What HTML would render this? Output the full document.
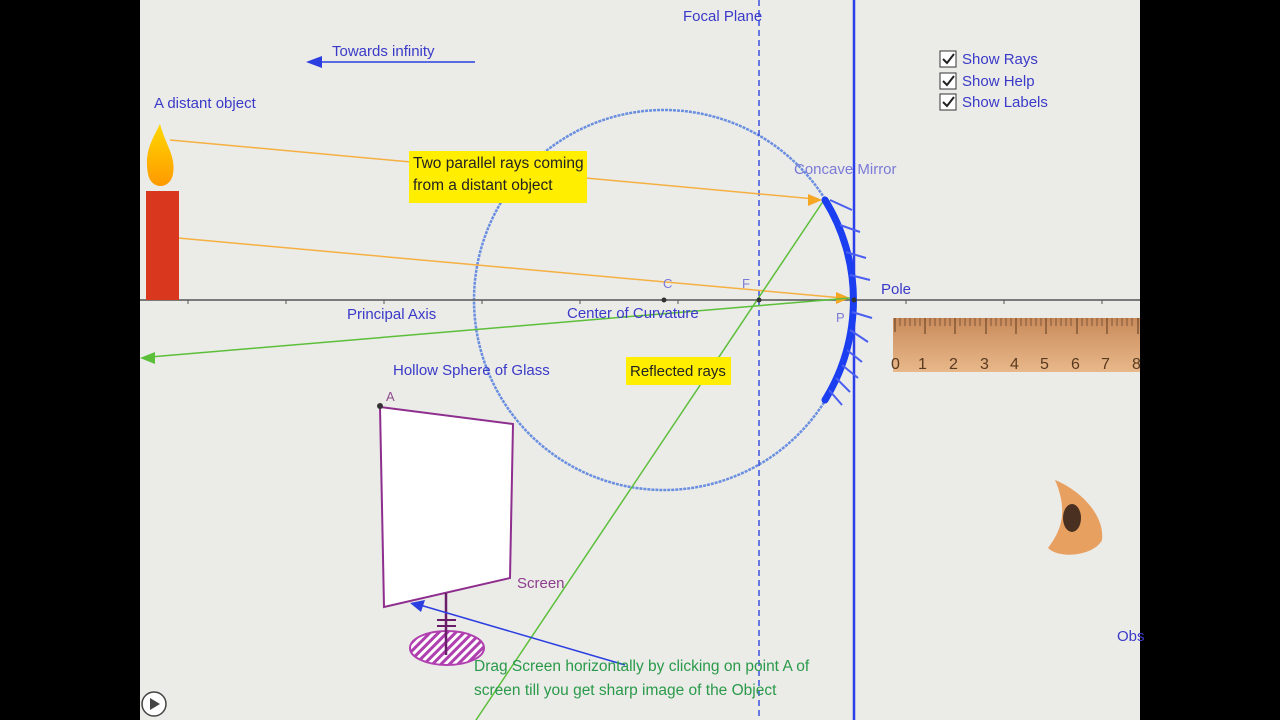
<!DOCTYPE html>
<html><head><meta charset="utf-8"><style>
body{margin:0;width:1280px;height:720px;overflow:hidden;background:#000}
svg{display:block}
text{font-family:"Liberation Sans",sans-serif}
</style></head><body>
<svg width="1280" height="720" viewBox="0 0 1280 720">
<defs>
<pattern id="h" width="6" height="6" patternUnits="userSpaceOnUse" patternTransform="rotate(45)"><rect width="6" height="6" fill="#fff"/><rect width="3" height="6" fill="#b040b0"/></pattern>
<linearGradient id="rl" x1="0" y1="0" x2="0" y2="1"><stop offset="0" stop-color="#c98a5a"/><stop offset="1" stop-color="#e8b88a"/></linearGradient>
<linearGradient id="fl" x1="0" y1="0" x2="0" y2="1"><stop offset="0" stop-color="#ffd800"/><stop offset="1" stop-color="#ff9a00"/></linearGradient>
</defs>
<rect x="140" y="0" width="1000" height="720" fill="#ebebe8"/>
<circle cx="664" cy="300" r="190" fill="none" stroke="#6a8fe0" stroke-width="2.5" stroke-dasharray="3 1"/>
<line x1="140" y1="300" x2="1140" y2="300" stroke="#555" stroke-width="1.5"/>
<g stroke="#555" stroke-width="1">
<line x1="188" y1="300" x2="188" y2="304"/><line x1="286" y1="300" x2="286" y2="304"/><line x1="384" y1="300" x2="384" y2="304"/><line x1="482" y1="300" x2="482" y2="304"/><line x1="580" y1="300" x2="580" y2="304"/><line x1="678" y1="300" x2="678" y2="304"/><line x1="906" y1="300" x2="906" y2="304"/><line x1="1004" y1="300" x2="1004" y2="304"/><line x1="1102" y1="300" x2="1102" y2="304"/>
</g>
<line x1="759" y1="0" x2="759" y2="720" stroke="#3a4fe0" stroke-width="1.5" stroke-dasharray="6 4"/>
<line x1="854" y1="0" x2="854" y2="720" stroke="#2b3fe8" stroke-width="2.5"/>
<line x1="170" y1="140" x2="815" y2="199" stroke="#f5b041" stroke-width="1.5"/>
<polygon points="822,200 808,194 808,206" fill="#f5a623"/>
<line x1="178" y1="238" x2="843" y2="298" stroke="#f5b041" stroke-width="1.5"/>
<polygon points="850,298 836,292 836,304" fill="#f5a623"/>
<line x1="824" y1="200" x2="476" y2="720" stroke="#5cbf3a" stroke-width="1.5"/>
<line x1="850" y1="298" x2="150" y2="357" stroke="#5cbf3a" stroke-width="1.5"/>
<polygon points="140,358 155,352 155,364" fill="#5cbf3a"/>
<path d="M825,200 A190,190 0 0 1 825,400" fill="none" stroke="#1a3ef0" stroke-width="7" stroke-linecap="round"/>
<g stroke="#4a5ff0" stroke-width="2">
<line x1="830" y1="200" x2="852" y2="210"/><line x1="840" y1="225" x2="860" y2="232"/><line x1="846" y1="252" x2="866" y2="258"/><line x1="850" y1="275" x2="870" y2="280"/><line x1="852" y1="312" x2="872" y2="318"/><line x1="850" y1="330" x2="868" y2="342"/><line x1="847" y1="350" x2="862" y2="362"/><line x1="842" y1="365" x2="858" y2="378"/><line x1="836" y1="378" x2="850" y2="392"/><line x1="829" y1="390" x2="842" y2="405"/>
</g>
<circle cx="664" cy="300" r="2.5" fill="#333"/><circle cx="759" cy="300" r="2.5" fill="#333"/><circle cx="854" cy="300" r="2.5" fill="#333"/>
<rect x="146" y="191" width="33" height="109" fill="#d9381e"/>
<path d="M160,124 C152,140 144,152 148,174 C151,190 170,190 173,174 C176,156 166,146 160,124Z" fill="url(#fl)"/>
<polygon points="380,407 513,424 510,578 384,607" fill="#fff" stroke="#8e2e8e" stroke-width="2"/>
<circle cx="380" cy="406" r="3" fill="#333"/>
<ellipse cx="447" cy="648" rx="37" ry="17" fill="url(#h)" stroke="#b040b0" stroke-width="2"/>
<line x1="446" y1="593" x2="446" y2="655" stroke="#6a1e6a" stroke-width="2.5"/>
<line x1="437" y1="620" x2="456" y2="620" stroke="#6a1e6a" stroke-width="2"/><line x1="437" y1="626" x2="456" y2="626" stroke="#6a1e6a" stroke-width="2"/>
<line x1="625" y1="665" x2="420" y2="605" stroke="#2b3fe0" stroke-width="1.5"/>
<polygon points="410,603 425,600 421,612" fill="#2b3fe0"/>
<line x1="475" y1="62" x2="318" y2="62" stroke="#2b3fe0" stroke-width="1.5"/>
<polygon points="306,62 322,56 322,68" fill="#2b3fe0"/>
<rect x="409" y="151" width="178" height="52" fill="#ffee00"/>
<text x="413" y="168" font-size="15.5" fill="#222">Two parallel rays coming</text>
<text x="413" y="190" font-size="15.5" fill="#222">from a distant object</text>
<rect x="626" y="357" width="105" height="28" fill="#ffee00"/>
<text x="630" y="376" font-size="15" fill="#222">Reflected rays</text>
<rect x="893" y="318" width="247" height="54" fill="url(#rl)"/>
<g fill="#5a3a20" font-size="16"><text x="891" y="369">0</text><text x="918" y="369">1</text><text x="949" y="369">2</text><text x="980" y="369">3</text><text x="1010" y="369">4</text><text x="1040" y="369">5</text><text x="1071" y="369">6</text><text x="1101" y="369">7</text><text x="1132" y="369">8</text></g>
<path d="M895,318 v14 M925,318 v16 M955,318 v16 M986,318 v16 M1016,318 v16 M1046,318 v16 M1077,318 v16 M1107,318 v16 M1138,318 v16" stroke="#5a3a20" stroke-width="1"/>
<path d="M900,318 v8 M905,318 v8 M910,318 v8 M915,318 v8 M920,318 v8 M930,318 v8 M935,318 v8 M940,318 v8 M945,318 v8 M950,318 v8 M960,318 v8 M965,318 v8 M970,318 v8 M975,318 v8 M980,318 v8 M991,318 v8 M996,318 v8 M1001,318 v8 M1006,318 v8 M1011,318 v8 M1021,318 v8 M1026,318 v8 M1031,318 v8 M1036,318 v8 M1041,318 v8 M1051,318 v8 M1056,318 v8 M1061,318 v8 M1066,318 v8 M1071,318 v8 M1082,318 v8 M1087,318 v8 M1092,318 v8 M1097,318 v8 M1102,318 v8 M1112,318 v8 M1117,318 v8 M1122,318 v8 M1127,318 v8 M1132,318 v8" stroke="#6a4a30" stroke-width="0.8"/>
<path d="M1055,480 C1080,490 1105,515 1102,540 C1095,555 1060,560 1048,548 C1062,530 1068,510 1055,480Z" fill="#e8a060"/>
<ellipse cx="1072" cy="518" rx="9" ry="14" fill="#4a3020"/>
<g font-size="15" fill="#3a3ac8">
<rect x="940" y="51" width="16" height="16" fill="#fff" stroke="#333"/><path d="M943,59 l4,4 l7,-9" stroke="#222" stroke-width="2" fill="none"/><text x="962" y="64">Show Rays</text>
<rect x="940" y="73" width="16" height="16" fill="#fff" stroke="#333"/><path d="M943,81 l4,4 l7,-9" stroke="#222" stroke-width="2" fill="none"/><text x="962" y="86">Show Help</text>
<rect x="940" y="94" width="16" height="16" fill="#fff" stroke="#333"/><path d="M943,102 l4,4 l7,-9" stroke="#222" stroke-width="2" fill="none"/><text x="962" y="107">Show Labels</text>
</g>
<g font-size="15" fill="#3a3ac8">
<text x="683" y="21">Focal Plane</text>
<text x="332" y="56">Towards infinity</text>
<text x="154" y="108">A distant object</text>
<text x="347" y="319">Principal Axis</text>
<text x="567" y="318">Center of Curvature</text>
<text x="393" y="375">Hollow Sphere of Glass</text>
<text x="881" y="294">Pole</text>
<text x="1117" y="641">Obs</text>
</g>
<g font-size="15" fill="#7a7ad8">
<text x="794" y="174">Concave Mirror</text>
<text x="663" y="288" font-size="13">C</text>
<text x="742" y="288" font-size="13">F</text>
<text x="836" y="322" font-size="13">P</text>
</g>
<text x="386" y="401" font-size="13" fill="#8e4e8e">A</text>
<text x="517" y="588" font-size="15" fill="#8e3e8e">Screen</text>
<text x="474" y="671" font-size="15.5" fill="#2a9a4a">Drag Screen horizontally by clicking on point A of</text>
<text x="474" y="695" font-size="15.5" fill="#2a9a4a">screen till you get sharp image of  the Object</text>
<circle cx="154" cy="704" r="12" fill="#fff" stroke="#444" stroke-width="1.5"/>
<polygon points="150,698 150,710 160,704" fill="#444"/>
</svg>
</body></html>
